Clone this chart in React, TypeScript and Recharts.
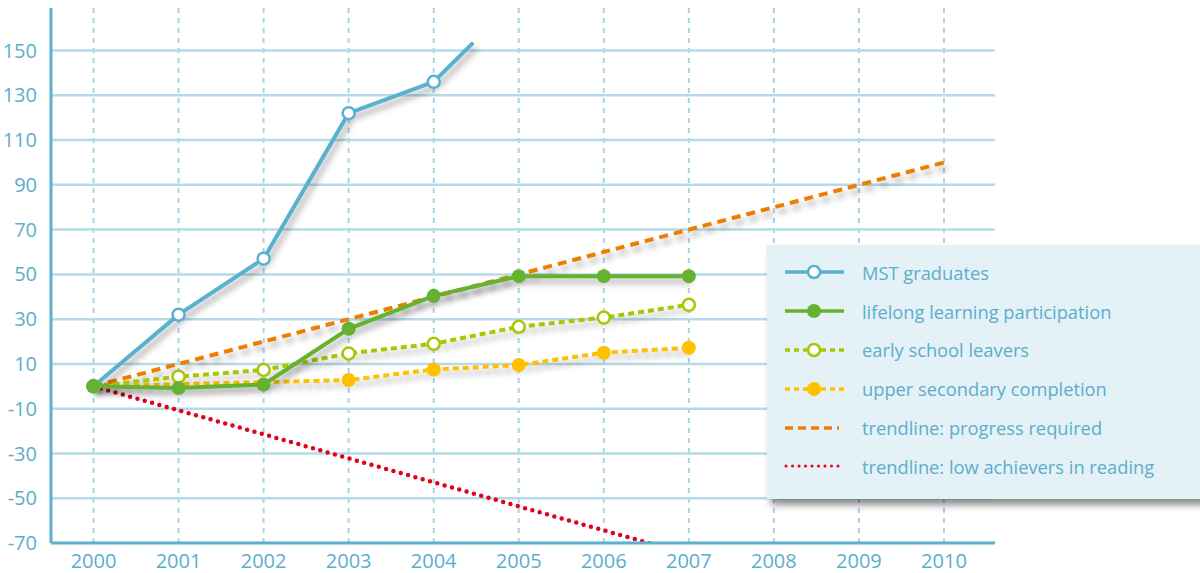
import React from 'react';
import { LineChart, Line, XAxis, YAxis, ReferenceLine, Legend } from 'recharts';

const years = [2000, 2001, 2002, 2003, 2004, 2005, 2006, 2007];
const xTicks = [2000, 2001, 2002, 2003, 2004, 2005, 2006, 2007, 2008, 2009, 2010];
const yTicks = [-70, -50, -30, -10, 10, 30, 50, 70, 90, 110, 130, 150];

const mstGraduates = [0, 32, 57, 122, 136];
const mstTailYear = 2004.45;
const mstTailValue = 153;
const lifelongLearning = [0, -0.8, 0.8, 25.7, 40.4, 49.2, 49.2, 49.2];
const earlySchoolLeavers = [0, 4.3, 7.3, 14.7, 19, 26.6, 30.7, 36.4];
const upperSecondary = [0, null, null, 2.8, 7.5, 9.5, 15, 17.2];
const progressYears = [2000, 2010];
const progressValues = [0, 100];
const lowAchieversYears = [2000, 2006.62];
const lowAchieversValues = [0, -71];

const C = {
  mst: '#58b1cf',
  lifelong: '#64b22f',
  early: '#a9c700',
  upper: '#ffc000',
  progress: '#ef7d00',
  low: '#e2001a',
  text: '#5caecb',
  grid: '#b6dbe8',
  vgrid: '#a9d4e4',
  axis: '#5fb0cf',
};

const mstData = [
  ...mstGraduates.map((v, i) => ({ x: years[i], v })),
  { x: mstTailYear, v: mstTailValue, tail: true },
];
const lifelongData = lifelongLearning.map((v, i) => ({ x: years[i], v }));
const earlyData = earlySchoolLeavers.map((v, i) => ({ x: years[i], v }));
const upperData = upperSecondary.map((v, i) => ({ x: years[i], v }));
const progressData = progressYears.map((x, i) => ({ x, v: progressValues[i] }));
const lowData = lowAchieversYears.map((x, i) => ({ x, v: lowAchieversValues[i] }));

const legendItems = [
  { label: 'MST graduates', color: C.mst, dash: undefined, marker: 'hollow' },
  { label: 'lifelong learning participation', color: C.lifelong, dash: undefined, marker: 'filled' },
  { label: 'early school leavers', color: C.early, dash: '5 4', marker: 'hollow' },
  { label: 'upper secondary completion', color: C.upper, dash: '5 4', marker: 'filled' },
  { label: 'trendline: progress required', color: C.progress, dash: '8 5', marker: 'none' },
  { label: 'trendline: low achievers in reading', color: C.low, dash: 'dot', marker: 'none' },
];

const hollowDot = (color: string) => (props: any) => {
  const { cx, cy, payload, index } = props;
  if (cx == null || cy == null || payload?.tail || payload?.v == null) return <g key={index} />;
  return <circle key={index} cx={cx} cy={cy} r={6} fill="#fff" stroke={color} strokeWidth={2.5} />;
};
const filledDot = (color: string) => (props: any) => {
  const { cx, cy, payload, index } = props;
  if (cx == null || cy == null || payload?.v == null) return <g key={index} />;
  return <circle key={index} cx={cx} cy={cy} r={7} fill={color} stroke="none" />;
};

const LegendContent = () => (
  <div
    style={{
      width: 440,
      height: 254,
      background: '#e4f1f6',
      boxShadow: '4px 6px 7px rgba(0,0,0,0.45)',
      paddingTop: 8,
      boxSizing: 'border-box',
    }}
  >
    {legendItems.map((it) => (
      <div key={it.label} style={{ display: 'flex', alignItems: 'center', height: 38.8 }}>
        <svg width={64} height={20} style={{ marginLeft: 17, marginRight: 14 }}>
          {it.dash === 'dot' ? (
            <line x1={2} y1={10} x2={58} y2={10} stroke={it.color} strokeWidth={3} strokeDasharray="0 6.5" strokeLinecap="round" />
          ) : (
            <line x1={1} y1={10} x2={it.marker === 'none' ? 55 : 60} y2={10} stroke={it.color} strokeWidth={3.5} strokeDasharray={it.dash} />
          )}
          {it.marker === 'hollow' && <circle cx={30} cy={10} r={6} fill="#fff" stroke={it.color} strokeWidth={2.5} />}
          {it.marker === 'filled' && <circle cx={30} cy={10} r={7} fill={it.color} />}
        </svg>
        <span style={{ fontFamily: '"Open Sans", sans-serif', fontSize: 18.3, color: C.text, whiteSpace: 'nowrap' }}>
          {it.label}
        </span>
      </div>
    ))}
  </div>
);

const tickStyle = { fontFamily: '"Liberation Sans Narrow", "Open Sans", sans-serif', fontSize: 20, fill: C.text };

export default function App() {
  return (
    <div style={{ width: 1200, height: 573, overflow: 'hidden', background: '#fff' }}>
      <style>{`body{margin:0;} .shadowed{filter:drop-shadow(3px 5px 3px rgba(0,0,0,0.35));}`}</style>
      <LineChart width={1200} height={573} margin={{ top: 8, right: 205, bottom: 0, left: 0 }}>
        <XAxis
          type="number"
          dataKey="x"
          domain={[1999.5, 2010.6]}
          ticks={xTicks}
          allowDataOverflow
          height={30}
          tickLine={false}
          tickSize={0}
          tickMargin={11}
          axisLine={{ stroke: C.axis, strokeWidth: 3 }}
          tick={tickStyle}
        />
        <YAxis
          type="number"
          domain={[-70, 169]}
          ticks={yTicks}
          allowDataOverflow
          width={51}
          tickLine={false}
          tickSize={0}
          tickMargin={14}
          axisLine={{ stroke: C.axis, strokeWidth: 3 }}
          tick={tickStyle}
        />
        {xTicks.map((t) => (
          <ReferenceLine key={'vx' + t} x={t} stroke={C.vgrid} strokeWidth={2} strokeDasharray="5 5" ifOverflow="hidden" />
        ))}
        {yTicks.map((t) => (
          <ReferenceLine key={'hy' + t} y={t} stroke={C.grid} strokeWidth={2.5} ifOverflow="hidden" />
        ))}
        <Legend
          layout="vertical"
          align="center"
          verticalAlign="middle"
          content={<LegendContent />}
          wrapperStyle={{ left: 767, top: 245, width: 440 }}
        />
        <Line data={lowData} dataKey="v" stroke={C.low} strokeWidth={4.5} strokeDasharray="0 7.6" strokeLinecap="round" dot={false} isAnimationActive={false} legendType="none" />
        <Line className="shadowed" data={progressData} dataKey="v" stroke={C.progress} strokeWidth={4} strokeDasharray="9 6" dot={false} isAnimationActive={false} legendType="none" />
        <Line className="shadowed" data={upperData} dataKey="v" stroke={C.upper} strokeWidth={4} strokeDasharray="6 4" connectNulls dot={filledDot(C.upper)} isAnimationActive={false} legendType="none" />
        <Line className="shadowed" data={earlyData} dataKey="v" stroke={C.early} strokeWidth={4} strokeDasharray="6 4" dot={hollowDot(C.early)} isAnimationActive={false} legendType="none" />
        <Line className="shadowed" data={mstData} dataKey="v" stroke={C.mst} strokeWidth={4} strokeLinecap="round" dot={hollowDot(C.mst)} isAnimationActive={false} legendType="none" />
        <Line className="shadowed" data={lifelongData} dataKey="v" stroke={C.lifelong} strokeWidth={4} dot={filledDot(C.lifelong)} isAnimationActive={false} legendType="none" />
      </LineChart>
    </div>
  );
}
